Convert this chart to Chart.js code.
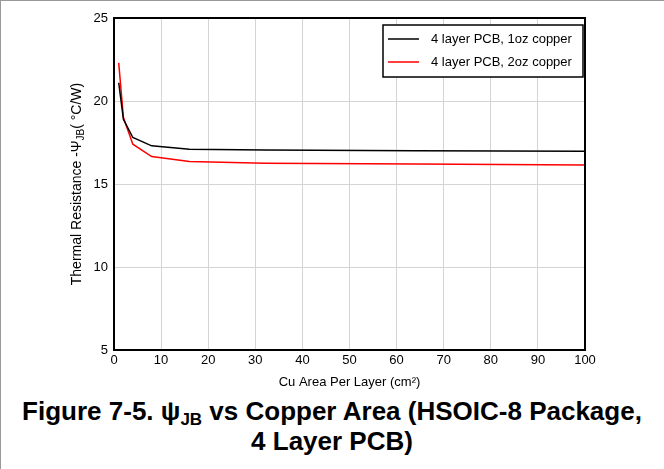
<!DOCTYPE html>
<html>
<head>
<meta charset="utf-8">
<script src="https://cdn.jsdelivr.net/npm/chart.js@4"></script>
<style>
  body { margin: 0; background: #fff; font-family: "Liberation Sans", Arial, sans-serif; }
  #wrap { width: 663px; height: 468px; position: relative; border-left: 1px solid #999; border-top: 1px solid #999; }
  #psi-graph { position: absolute; left: -1px; top: -1px; }
  #caption { position: absolute; left: -1px; top: 395px; width: 664px; text-align: center;
             font-weight: bold; font-size: 26px; line-height: 30px; color: #000; }
  #caption sub { font-size: 17px; vertical-align: -5px; line-height: 0; }
</style>
</head>
<body>
<div id="wrap">
  <canvas id="psi-graph" width="664" height="392"></canvas>
  <div id="caption">Figure 7-5. ψ<sub>JB</sub> vs Copper Area (HSOIC-8 Package,<br>4 Layer PCB)</div>
</div>
<script>
// 銅面積 (cm2) と熱抵抗
const cuArea = [1, 2, 4, 8, 16, 32, 64, 100];
const psi1oz = [21.1, 18.9, 17.8, 17.3, 17.1, 17.05, 17.0, 16.98];
const psi2oz = [22.3, 19.0, 17.4, 16.65, 16.35, 16.25, 16.2, 16.15];
const seriesLabels = ['4 layer PCB, 1oz copper', '4 layer PCB, 2oz copper'];
const xTicks = [0, 10, 20, 30, 40, 50, 60, 70, 80, 90, 100];
const yTicks = [5, 10, 15, 20, 25];

const FONT = '"Liberation Sans", Arial, sans-serif';

// 枠線・凡例・縦軸タイトルを描くプラグイン
const decor = {
    id: 'decor',
    afterDraw(chart) {
        const { ctx, chartArea: a } = chart;
        ctx.save();
        ctx.strokeStyle = '#000';
        ctx.lineWidth = 2;
        ctx.strokeRect(a.left, a.top, a.right - a.left, a.bottom - a.top);

        // 凡例
        const lx = 383, ly = 25, lw = 200, lh = 52;
        ctx.fillStyle = '#fff';
        ctx.fillRect(lx, ly, lw, lh);
        ctx.lineWidth = 1.5;
        ctx.strokeRect(lx, ly, lw, lh);
        ctx.font = '13px ' + FONT;
        ctx.textBaseline = 'middle';
        chart.data.datasets.forEach((ds, i) => {
            const y = ly + 14 + i * 23;
            ctx.strokeStyle = ds.borderColor;
            ctx.lineWidth = 1.5;
            ctx.beginPath();
            ctx.moveTo(388, y);
            ctx.lineTo(419, y);
            ctx.stroke();
            ctx.fillStyle = '#000';
            ctx.fillText(ds.label, 431, y);
        });

        // 縦軸タイトル (下付き文字つき)
        const parts = [
            { t: 'Thermal Resistance -Ψ', size: 14, dy: 0 },
            { t: 'JB', size: 10, dy: 3 },
            { t: '( °C/W)', size: 14, dy: 0 }
        ];
        let total = 0;
        parts.forEach(p => { ctx.font = p.size + 'px ' + FONT; p.w = ctx.measureText(p.t).width; total += p.w; });
        ctx.translate(81, (a.top + a.bottom) / 2);
        ctx.rotate(-Math.PI / 2);
        ctx.textBaseline = 'alphabetic';
        ctx.fillStyle = '#000';
        let x = -total / 2;
        parts.forEach(p => {
            ctx.font = p.size + 'px ' + FONT;
            ctx.fillText(p.t, x, p.dy);
            x += p.w;
        });
        ctx.restore();
    }
};

const ctx = document.getElementById('psi-graph').getContext('2d');
new Chart(ctx, {
    type: 'line',
    data: {
        labels: cuArea,
        datasets: [{
            label: seriesLabels[0],
            data: cuArea.map((x, i) => ({ x: x, y: psi1oz[i] })),
            borderColor: '#000000',
            borderWidth: 1.5,
            pointRadius: 0,
            tension: 0
        }, {
            label: seriesLabels[1],
            data: cuArea.map((x, i) => ({ x: x, y: psi2oz[i] })),
            borderColor: '#ff0000',
            borderWidth: 1.5,
            pointRadius: 0,
            tension: 0
        }]
    },
    options: {
        responsive: false,
        animation: false,
        layout: { padding: { top: 18, right: 79, left: 0, bottom: 0 } },
        scales: {
            x: {
                type: 'linear',
                min: 0,
                max: 100,
                afterFit(scale) { scale.height = 42; },
                afterBuildTicks(scale) { scale.ticks = xTicks.map(v => ({ value: v })); },
                grid: { color: '#d4d4d4', lineWidth: 1, drawTicks: false },
                border: { display: false },
                ticks: { color: '#000', font: { family: FONT, size: 13 }, padding: 3, maxRotation: 0 },
                title: {
                    display: true,
                    text: 'Cu Area Per Layer (cm²)',
                    color: '#000',
                    font: { family: FONT, size: 13 },
                    padding: { top: 0, bottom: 2 }
                }
            },
            y: {
                min: 5,
                max: 25,
                afterFit(scale) { scale.width = 114; },
                afterBuildTicks(scale) { scale.ticks = yTicks.map(v => ({ value: v })); },
                grid: { color: '#d4d4d4', lineWidth: 1, drawTicks: false },
                border: { display: false },
                ticks: { color: '#000', font: { family: FONT, size: 13 }, padding: 6 }
            }
        },
        plugins: {
            legend: { display: false },
            tooltip: { enabled: false }
        }
    },
    plugins: [decor]
});
</script>
</body>
</html>
